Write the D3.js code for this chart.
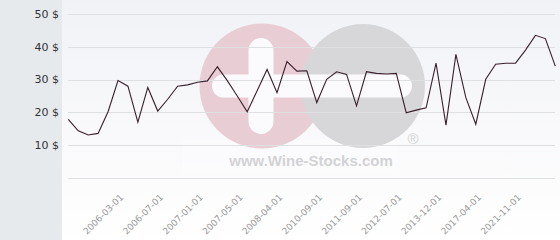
<!DOCTYPE html>
<meta charset="utf-8">
<style>
body { margin: 0; background: #fff; }
svg { display: block; font-family: "DejaVu Sans", sans-serif; }
.grid line { stroke: #dfe0e2; stroke-width: 1; shape-rendering: crispEdges; }
.price { fill: none; stroke: #3a1f2c; stroke-width: 1.1; }
.ylab { fill: #333; font-size: 11px; }
.xlab { fill: #999; font-size: 9px; }
</style>
<body>
<svg width="560" height="240"></svg>
</body>
<script src="https://d3js.org/d3.v7.min.js"></script>
<script>

// prices, one per sample (evenly spaced)
var prices = [17.9, 14.4, 13.1, 13.6, 20.2, 29.7, 28.0, 17.0, 27.6, 20.4,
              24.0, 28.0, 28.4, 29.2, 29.6, 33.9, 29.7, 25.0, 20.2, 26.6,
              33.1, 26.0, 35.5, 32.6, 32.7, 23.0, 30.1, 32.4, 31.6, 22.0,
              32.4, 31.9, 31.7, 31.9, 19.9, 20.7, 21.4, 35.0, 16.1, 37.7,
              24.5, 16.4, 30.1, 34.7, 35.0, 35.0, 39.0, 43.5, 42.5, 34.1];

// dates shown on the x axis and the sample they sit under
var dateLabels = ["2006-03-01", "2006-07-01", "2007-01-01", "2007-05-01", "2008-04-01",
                  "2010-09-01", "2011-09-01", "2012-07-01", "2013-12-01", "2017-04-01",
                  "2021-11-01"];
var dateIndex = [6, 10, 14, 18, 22, 26, 30, 34, 38, 42, 46];

var yTicks = [0, 10, 20, 30, 40, 50];

var svg = d3.select("svg"),
    width = +svg.attr("width"),
    height = +svg.attr("height");

var x = d3.scalePoint().domain(d3.range(prices.length)).range([68.3, 555.3]),
    y = d3.scaleLinear().domain([0, 50]).range([178, 14]);

// backgrounds
var defs = svg.append("defs");
var grad = defs.append("linearGradient")
    .attr("id", "plotbg").attr("x1", 0).attr("y1", 0).attr("x2", 0).attr("y2", 1);
grad.append("stop").attr("offset", "0%").attr("stop-color", "#f1f2f6");
grad.append("stop").attr("offset", "100%").attr("stop-color", "#ffffff");

svg.append("rect").attr("width", width).attr("height", height).attr("fill", "url(#plotbg)");
svg.append("rect").attr("width", 62).attr("height", height).attr("fill", "#e6eaed");

// watermark
var wm = svg.append("g");
wm.append("rect").attr("x", 183).attr("y", 140).attr("width", 215).attr("height", 32)
    .attr("fill", "#fff").attr("opacity", 0.3);
wm.append("circle").attr("cx", 262).attr("cy", 86).attr("r", 62.5).attr("fill", "#e8cdd4");
wm.append("circle").attr("cx", 363).attr("cy", 86).attr("r", 62).attr("fill", "#d7d7d9");
wm.append("rect").attr("x", 248.5).attr("y", 38).attr("width", 25).attr("height", 96)
    .attr("rx", 12.5).attr("fill", "#fbfbfd");
wm.append("rect").attr("x", 212).attr("y", 74.5).attr("width", 200).attr("height", 23)
    .attr("rx", 11.5).attr("fill", "#fbfbfd");
wm.append("text").attr("x", 311).attr("y", 166).attr("text-anchor", "middle")
    .attr("font-family", "Liberation Sans, Arial, sans-serif").attr("font-weight", "bold")
    .attr("font-size", 15).attr("fill", "#d3d3d5").text("www.Wine-Stocks.com");
wm.append("text").attr("x", 413).attr("y", 144).attr("text-anchor", "middle")
    .attr("font-family", "Liberation Sans, Arial, sans-serif")
    .attr("font-size", 15).attr("fill", "#d3d3d5").text("®");

// grid lines
svg.append("g").attr("class", "grid")
  .selectAll("line")
  .data(yTicks)
  .enter().append("line")
    .attr("x1", 68).attr("x2", 555)
    .attr("y1", function(d) { return Math.round(y(d)) + 0.5; })
    .attr("y2", function(d) { return Math.round(y(d)) + 0.5; });

// y labels
svg.append("g")
  .selectAll("text")
  .data(yTicks.filter(function(d) { return d > 0; }))
  .enter().append("text")
    .attr("class", "ylab")
    .attr("x", 59)
    .attr("y", function(d) { return y(d); })
    .attr("dy", "0.35em")
    .attr("text-anchor", "end")
    .text(function(d) { return d + " $"; });

// x labels
svg.append("g")
  .selectAll("text")
  .data(dateLabels)
  .enter().append("text")
    .attr("class", "xlab")
    .attr("text-anchor", "end")
    .attr("transform", function(d, i) {
      return "translate(" + (x(dateIndex[i]) - 4) + ",198) rotate(-45)";
    })
    .text(function(d) { return d; });

// price line
var line = d3.line()
    .x(function(d, i) { return x(i); })
    .y(function(d) { return y(d); });

svg.append("path")
    .datum(prices)
    .attr("class", "price")
    .attr("d", line);

</script>
